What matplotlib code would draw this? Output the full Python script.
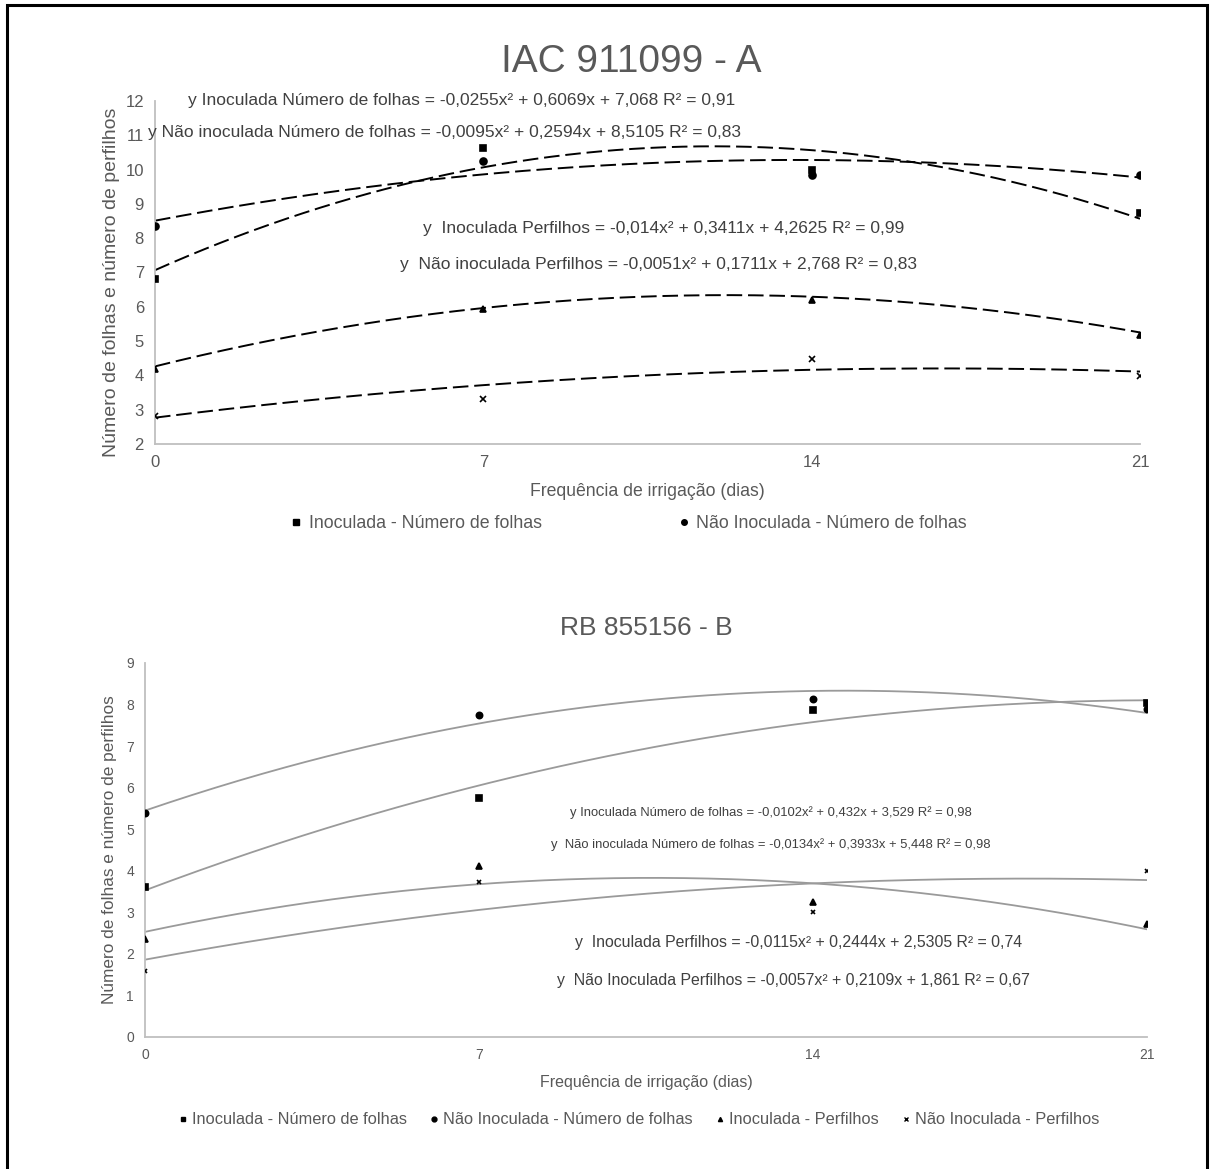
import numpy as np
import matplotlib
matplotlib.use("Agg")
import matplotlib.pyplot as plt
from matplotlib.lines import Line2D
from matplotlib.patches import Rectangle

plt.rcParams["font.family"] = ["Liberation Sans", "DejaVu Sans"]

W, H = 1215, 1169
TXT = "#595959"
AX = "#bfbfbf"

dias = [0, 7, 14, 21]
xticks = [0, 7, 14, 21]

# IAC 911099 - A
a_inoc_folhas = [6.82, 10.62, 9.99, 8.73]
a_nao_folhas = [8.36, 10.25, 9.83, 9.85]
a_inoc_perf = [4.2, 5.93, 6.2, 5.18]
a_nao_perf = [2.83, 3.31, 4.47, 3.98]
a_coef = {
    "inoc_folhas": (-0.0255, 0.6069, 7.068),
    "nao_folhas": (-0.0095, 0.2594, 8.5105),
    "inoc_perf": (-0.014, 0.3411, 4.2625),
    "nao_perf": (-0.0051, 0.1711, 2.768),
}
a_eqs = [
    "y Inoculada Número de folhas = -0,0255x² + 0,6069x + 7,068 R² = 0,91",
    "y Não inoculada Número de folhas = -0,0095x² + 0,2594x + 8,5105 R² = 0,83",
    "y  Inoculada Perfilhos = -0,014x² + 0,3411x + 4,2625 R² = 0,99",
    "y  Não inoculada Perfilhos = -0,0051x² + 0,1711x + 2,768 R² = 0,83",
]

# RB 855156 - B
b_inoc_folhas = [3.61, 5.75, 7.88, 8.03]
b_nao_folhas = [5.38, 7.76, 8.14, 7.9]
b_inoc_perf = [2.35, 4.12, 3.25, 2.73]
b_nao_perf = [1.59, 3.73, 3.01, 4.0]
b_coef = {
    "inoc_folhas": (-0.0102, 0.432, 3.529),
    "nao_folhas": (-0.0134, 0.3933, 5.448),
    "inoc_perf": (-0.0115, 0.2444, 2.5305),
    "nao_perf": (-0.0057, 0.2109, 1.861),
}
b_eqs = [
    "y Inoculada Número de folhas = -0,0102x² + 0,432x + 3,529 R² = 0,98",
    "y  Não inoculada Número de folhas = -0,0134x² + 0,3933x + 5,448 R² = 0,98",
    "y  Inoculada Perfilhos = -0,0115x² + 0,2444x + 2,5305 R² = 0,74",
    "y  Não Inoculada Perfilhos = -0,0057x² + 0,2109x + 1,861 R² = 0,67",
]

labels = ["Inoculada - Número de folhas", "Não Inoculada - Número de folhas",
          "Inoculada - Perfilhos", "Não Inoculada - Perfilhos"]
markers = [("s", 5), ("o", 5), ("^", 4.5), ("x", 4)]


def box(x0, y0, x1, y1):
    # pixel box (top-left origin) -> figure rect
    return [x0 / W, 1 - y1 / H, (x1 - x0) / W, (y1 - y0) / H]


def ftext(x, y, s, **kw):
    fig.text(x / W, 1 - y / H, s, **kw)


def style_axes(ax, ylim, yticks, tick_fs):
    ax.set_xlim(0, 21)
    ax.set_ylim(*ylim)
    ax.set_xticks(xticks)
    ax.set_yticks(yticks)
    for s in ("top", "right"):
        ax.spines[s].set_visible(False)
    for s in ("left", "bottom"):
        ax.spines[s].set_color(AX)
        ax.spines[s].set_linewidth(1.3)
    ax.tick_params(length=0, colors=TXT, labelsize=tick_fs, pad=8)
    ax.patch.set_alpha(0)


def trend(coef):
    xs = np.linspace(0, 21, 300)
    a, b, c = coef
    return xs, a * xs ** 2 + b * xs + c


fig = plt.figure(figsize=(W / 100, H / 100), dpi=100)

# ---- panel A
axA = fig.add_axes(box(155, 101, 1140, 444))
style_axes(axA, (2, 12), range(2, 13), 12)
seriesA = [a_inoc_folhas, a_nao_folhas, a_inoc_perf, a_nao_perf]
for key in a_coef:
    xs, ys = trend(a_coef[key])
    axA.plot(xs, ys, color="black", lw=1.4, ls=(0, (8, 3)), zorder=2)
for vals, (m, ms) in zip(seriesA, markers):
    axA.plot(dias, vals, ls="none", marker=m, ms=ms, color="black",
             mec="black", mew=1.2, zorder=3)

ftext(631, 62, "IAC 911099 - A", fontsize=28, color=TXT, ha="center", va="center")
ftext(112, 282, "Número de folhas e número de perfilhos", fontsize=14, color=TXT,
      rotation=90, ha="center", va="center")
ftext(647, 492, "Frequência de irrigação (dias)", fontsize=12.7, color=TXT,
      ha="center", va="center")
for (x, y), s in zip([(188, 100), (148, 133), (423, 228), (400, 265)], a_eqs):
    ftext(x, y, s, fontsize=12.5, color="#404040", ha="left", va="center")

hA = [Line2D([], [], ls="none", marker=m, ms=ms - 1, color="black")
      for m, ms in markers[:2]]
fig.legend(hA, labels[:2], loc="center", bbox_to_anchor=(629 / W, 1 - 524 / H),
           ncol=2, frameon=False, fontsize=12.8, labelcolor=TXT,
           handlelength=0.6, handletextpad=0.4, columnspacing=7.7)

# ---- panel B
axB = fig.add_axes(box(145, 663, 1147, 1037))
style_axes(axB, (0, 9), range(0, 10), 10)
seriesB = [b_inoc_folhas, b_nao_folhas, b_inoc_perf, b_nao_perf]
for key in b_coef:
    xs, ys = trend(b_coef[key])
    axB.plot(xs, ys, color="#9a9a9a", lw=1.3, zorder=2)
for vals, (m, ms) in zip(seriesB, markers):
    axB.plot(dias, vals, ls="none", marker=m, ms=ms - 0.5, color="black",
             mec="black", mew=1.2, zorder=3)

ftext(646, 628, "RB 855156 - B", fontsize=19, color=TXT, ha="center", va="center")
ftext(110, 850, "Número de folhas e número de perfilhos", fontsize=12.4, color=TXT,
      rotation=90, ha="center", va="center")
ftext(646, 1082, "Frequência de irrigação (dias)", fontsize=11.5, color=TXT,
      ha="center", va="center")
for (x, y), s, fs in zip([(570, 813), (551, 845), (575, 943), (557, 980)], b_eqs,
                         [9.4, 9.4, 11.4, 11.4]):
    ftext(x, y, s, fontsize=fs, color="#404040", ha="left", va="center")

hB = [Line2D([], [], ls="none", marker=m, ms=ms - 1.5, color="black")
      for m, ms in markers]
fig.legend(hB, labels, loc="center", bbox_to_anchor=(639 / W, 1 - 1120 / H),
           ncol=4, frameon=False, fontsize=11.8, labelcolor=TXT,
           handlelength=0.5, handletextpad=0.3, columnspacing=1.4)

# page frame
fig.patches.append(Rectangle((7 / W, -0.05), 1200 / W, 1.05 - 5 / H,
                             transform=fig.transFigure, fill=False,
                             edgecolor="black", lw=2.2))

fig.savefig("out.png", dpi=100)
